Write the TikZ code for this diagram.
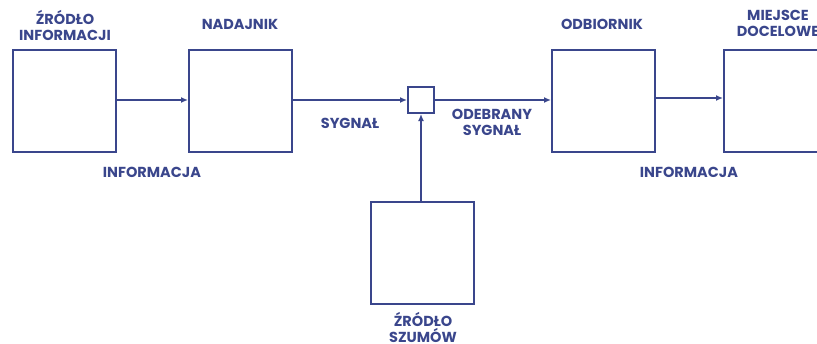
\documentclass[tikz,border=0pt]{standalone}
\usepackage{fontspec}
\setmainfont{Poppins}
\usetikzlibrary{arrows.meta}
\definecolor{ink}{RGB}{58,70,140}
\tikzset{
  block/.style={draw=ink, line width=2pt, minimum width=103pt, minimum height=102pt, inner sep=0pt},
  junction/.style={draw=ink, line width=2pt, minimum size=26pt, inner sep=0pt},
  flow/.style={draw=ink, line width=2pt, -{Latex[length=7pt,width=6pt]}},
  caption/.style={text=ink, font=\fontsize{14.5}{16}\selectfont\bfseries, align=center, inner sep=0pt},
}
\begin{document}
\begin{tikzpicture}[x=1pt,y=-1pt]
\useasboundingbox (0,0) rectangle (817,343);
\clip (0,0) rectangle (817,343);
% blocks of the chain
\node[block] (src) at (64.5,101) {};
\node[block] (tx)  at (240.5,101) {};
\node[junction] (mix) at (421,100) {};
\node[block] (rx)  at (603.5,101) {};
\node[block] (dst) at (775.5,101) {};
\node[block] (noise) at (422,252.5) {};
% connectors
\draw[flow] (src.east |- 0,100) -- (tx.west |- 0,100);
\draw[flow] (tx.east |- 0,100) -- (mix.west);
\draw[flow] (mix.east) -- (rx.west |- 0,100);
\draw[flow] (rx.east |- 0,98) -- (dst.west |- 0,98);
\draw[flow] (noise.north -| mix.south) -- (mix.south);
% captions
\node[caption] (lsrc) at (65,25) {ŹRÓDŁO\\INFORMACJI};
\node[caption] (ltx) at (240,24) {NADAJNIK};
\node[caption] (linf1) at (152,172) {INFORMACJA};
\node[caption] (lsig) at (350,123) {SYGNAŁ};
\node[caption] (lrsig) at (492,122.5) {ODEBRANY\\SYGNAŁ};
\node[caption] (lrx) at (602,24) {ODBIORNIK};
\node[caption] (ldst) at (778,23.5) {MIEJSCE\\DOCELOWE};
\node[caption] (linf2) at (689,172) {INFORMACJA};
\node[caption] (lnoise) at (423,327.5) {ŹRÓDŁO\\SZUMÓW};
\end{tikzpicture}
\end{document}
